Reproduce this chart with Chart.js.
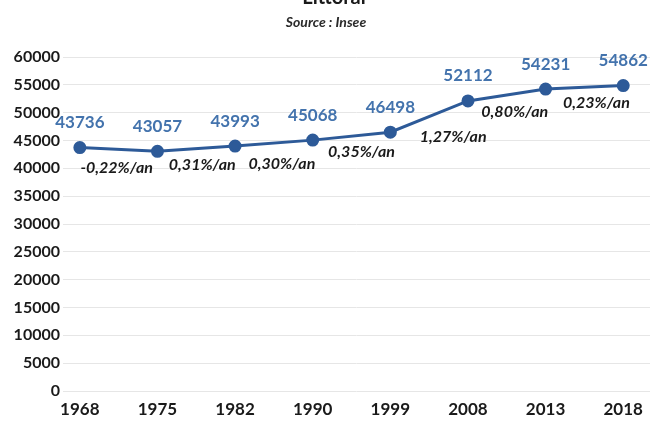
<!DOCTYPE html>
<html>
<head>
<meta charset="utf-8">
<script src="https://cdn.jsdelivr.net/npm/chart.js@4/dist/chart.umd.min.js"></script>
<style>
  html, body { margin: 0; padding: 0; background: #fff; }
  canvas { display: block; }
</style>
</head>
<body>
<canvas id="popChart" width="658" height="421"></canvas>
<script>
const years = ["1968", "1975", "1982", "1990", "1999", "2008", "2013", "2018"];
const population = [43736, 43057, 43993, 45068, 46498, 52112, 54231, 54862];
const growthRates = ["-0,22%/an", "0,31%/an", "0,30%/an", "0,35%/an", "1,27%/an", "0,80%/an", "0,23%/an"];
const yTicks = [0, 5000, 10000, 15000, 20000, 25000, 30000, 35000, 40000, 45000, 50000, 55000, 60000];

const LINE_BLUE = "#2d5a98";
const LABEL_BLUE = "#4373ad";
const TEXT_DARK = "#1a1a1a";
const FONT = "Lato, 'Open Sans', sans-serif";

// small per-label nudges for the growth rate captions, relative to segment midpoints
const rateNudge = [[-2, 18], [6, 16], [8, 21], [10, 16], [24, 20], [8, 17], [12, 15]];

const titlePlugin = {
  id: "titles",
  afterDraw(chart) {
    const ctx = chart.ctx;
    ctx.save();
    ctx.fillStyle = TEXT_DARK;
    ctx.textAlign = "center";
    ctx.textBaseline = "alphabetic";
    ctx.font = `bold 20px ${FONT}`;
    ctx.fillText("Littoral", 334, 4);
    ctx.font = `italic bold 14px ${FONT}`;
    ctx.fillStyle = "#2a2a2a";
    ctx.fillText("Source : Insee", 326, 27);
    ctx.restore();
  }
};

const labelPlugin = {
  id: "pointLabels",
  afterDatasetsDraw(chart) {
    const ctx = chart.ctx;
    const pts = chart.getDatasetMeta(0).data;
    ctx.save();
    ctx.textAlign = "center";
    ctx.textBaseline = "middle";
    ctx.font = `bold 17px ${FONT}`;
    ctx.fillStyle = LABEL_BLUE;
    pts.forEach((p, i) => {
      ctx.fillText(String(population[i]), p.x, p.y - 25);
    });
    ctx.font = `italic bold 16px ${FONT}`;
    ctx.fillStyle = TEXT_DARK;
    growthRates.forEach((txt, i) => {
      const a = pts[i], b = pts[i + 1];
      const [dx, dy] = rateNudge[i];
      ctx.fillText(txt, (a.x + b.x) / 2 + dx, (a.y + b.y) / 2 + dy);
    });
    ctx.restore();
  }
};

new Chart(document.getElementById("popChart"), {
  type: "line",
  data: {
    datasets: [{
      data: population.map((v, i) => ({ x: i, y: v })),
      borderColor: LINE_BLUE,
      backgroundColor: LINE_BLUE,
      borderWidth: 3,
      pointRadius: 5,
      pointHoverRadius: 5,
      tension: 0
    }]
  },
  options: {
    responsive: false,
    animation: false,
    events: [],
    layout: { padding: { top: 57, right: 3, left: 0, bottom: 0 } },
    plugins: { legend: { display: false }, tooltip: { enabled: false } },
    scales: {
      x: {
        type: "linear",
        min: -0.217,
        max: 7.345,
        afterBuildTicks: s => { s.ticks = years.map((_, i) => ({ value: i })); },
        afterFit: s => { s.height = 30; },
        grid: { display: false },
        border: { display: false },
        ticks: {
          callback: v => years[v],
          color: TEXT_DARK,
          font: { family: FONT, size: 17, weight: "bold" },
          padding: 0,
          maxRotation: 0,
          autoSkip: false
        }
      },
      y: {
        min: 0,
        max: 60000,
        afterBuildTicks: s => { s.ticks = yTicks.map(v => ({ value: v })); },
        afterFit: s => { s.width = 63; },
        grid: { color: "#e6e6e6", lineWidth: 1, drawTicks: false },
        border: { display: false },
        ticks: {
          callback: v => String(v),
          color: TEXT_DARK,
          font: { family: FONT, size: 16, weight: "bold" },
          padding: 3
        }
      }
    }
  },
  plugins: [titlePlugin, labelPlugin]
});
</script>
</body>
</html>
